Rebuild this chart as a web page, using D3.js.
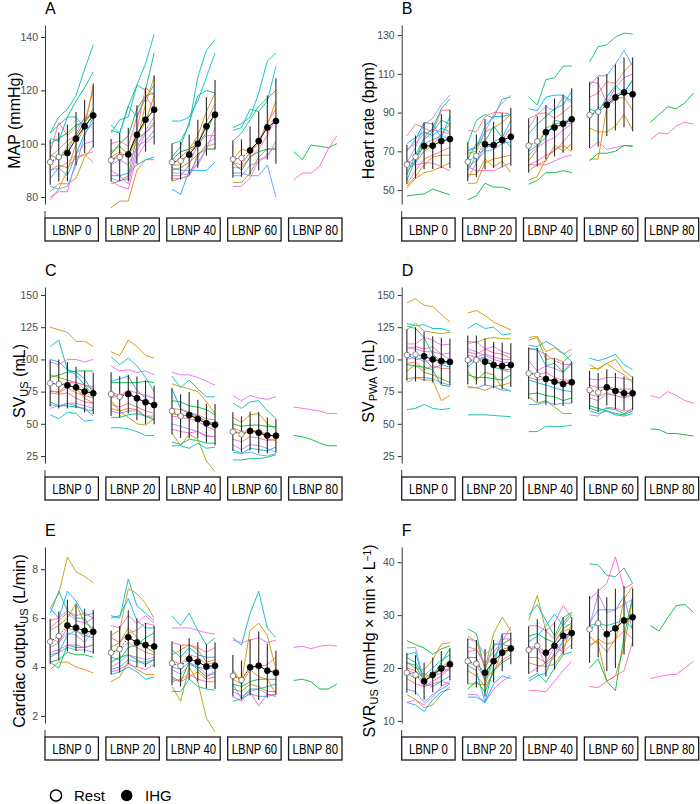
<!DOCTYPE html>
<html>
<head>
<meta charset="utf-8">
<script src="https://cdn.jsdelivr.net/npm/d3@7"></script>
<style>
  body { margin: 0; background: #fff; }
  text { font-family: "Liberation Sans", Arial, sans-serif; }
</style>
</head>
<body>
<svg id="chart" width="700" height="804"></svg>
<script>
// ---- shared categories ----
const lbnpLevels = ["LBNP 0", "LBNP 20", "LBNP 40", "LBNP 60", "LBNP 80"];
const timepoints = ["Rest 1", "Rest 2", "IHG 1", "IHG 2", "IHG 3", "IHG 4"];
const restCount = 2;
const subjectColors = ["#F8766D", "#E58700", "#C99800", "#A3A500", "#6BB100", "#00BA38", "#00BF7D",
  "#00C0AF", "#00BCD8", "#00B0F6", "#619CFF", "#B983FF", "#E76BF3", "#FD61D1", "#FF67A4"];

// ---- A: MAP ----
const mapTicks = [80, 100, 120, 140];
const mapMean = [[93.1, 95, 96.5, 101.9, 106.5, 110.6], [93.8, 95, 96, 103.4, 109, 112.7],
  [93.1, 93.6, 95.9, 100, 106.5, 110.9], [94.2, 94.6, 97.5, 101, 106.1, 108.5]];
const mapSd = [[8.5, 9.2, 10.6, 10, 10, 12], [8, 9, 10, 11, 12, 13], [7, 7, 7.5, 9, 11, 13], [7, 7, 9, 11, 12, 16]];
const mapLines = [
  [{id: 7, v: [104, 110, 113, 118, 128, 137]}, {id: 6, v: [104, 107, 110, 116, 121, 127]},
   {id: 8, v: [102, 101, 110, 110, 106, 111]}, {id: 5, v: [100, 102, 104, 107, 108, 113]},
   {id: 14, v: [97, 108, 103, 106, 109, 111]}, {id: 11, v: [92, 95, 97, 104, 110, 110]},
   {id: 9, v: [87, 91, 88, 96, 104, 108]}, {id: 0, v: [95, 98, 101, 103, 108, 120]},
   {id: 1, v: [79, 83, 90, 100, 106, 122]}, {id: 3, v: [82, 85, 85, 87, 95, 99]},
   {id: 13, v: [80, 82, 82, 94, 96, 97]}, {id: 10, v: [84, 83, 84, 92, 103, 110]},
   {id: 2, v: [90, 92, 91, 95, 96, 93]}, {id: 12, v: [90, 91, 93, 96, 100, 101]},
   {id: 4, v: [96, 94, 99, 103, 108, 112]}],
  [{id: 7, v: [104, 109, 110, 122, 130, 141]}, {id: 6, v: [105, 104, 114, 122, 120, 134]},
   {id: 8, v: [107, 104, 114, 110, 117, 122]}, {id: 5, v: [96, 100, 103, 113, 118, 119]},
   {id: 14, v: [100, 101, 99, 110, 118, 113]}, {id: 0, v: [95, 97, 95, 105, 121, 118]},
   {id: 1, v: [76, 78.5, 78.5, 90, 94, 94]}, {id: 2, v: [94, 96, 96, 100, 115, 125]},
   {id: 3, v: [85, 86, 88, 103, 108, 118]}, {id: 9, v: [88, 88, 89, 92, 94, 95]},
   {id: 10, v: [87, 86, 87, 99, 101, 105]}, {id: 12, v: [90, 88, 85, 97, 104, 107]},
   {id: 13, v: [86, 84, 83, 95, 100, 103]}, {id: 4, v: [97, 99, 96, 102, 104, 108]},
   {id: 11, v: [92, 94, 92, 99, 105, 110]}],
  [{id: 7, v: [100, 101, 107, 125, 135, 139]}, {id: 6, v: [95, 99, 108, 118, 120, 119]},
   {id: 8, v: [108.5, 108.5, 110, 116, 125, 134]}, {id: 9, v: [83, 81, 90, 90, 90, 93]},
   {id: 10, v: [91, 90, 90, 92, 98, 98]}, {id: 5, v: [94, 97, 98, 100, 104, 112]},
   {id: 1, v: [92, 95, 98, 103, 112, 119]}, {id: 0, v: [92, 92, 97, 100, 108, 115]},
   {id: 14, v: [88, 88, 92, 100, 103, 103]}, {id: 3, v: [86, 87, 88, 96, 99, 100]},
   {id: 12, v: [87, 87, 88, 93, 98, 106]}, {id: 11, v: [89, 89, 88, 95, 100, 102]},
   {id: 4, v: [90, 91, 93, 96, 98, 98]}],
  [{id: 7, v: [106, 107.5, 110, 119, 131, 134]}, {id: 8, v: [105, 106, 113, 112, 116, 129]},
   {id: 6, v: [101, 104, 109, 114, 117, 120]}, {id: 1, v: [94, 98, 97, 100, 107, 116]},
   {id: 0, v: [93, 92, 97, 101, 108, 113]}, {id: 14, v: [91, 91, 95, 98, 103, 110]},
   {id: 3, v: [85.5, 85.5, 89, 95, 98, 98]}, {id: 5, v: [93, 90, 95, 97, 98, 98]},
   {id: 10, v: [89, 89, 88, 88, 92, 80]}, {id: 12, v: [84, 84, 87, 94, 95, 101]},
   {id: 11, v: [88, 88, 92, 93, 96, 99]}],
  [{id: 5, v: [97, 94, 99.5, 99, 98.5, 100]}, {id: 13, v: [86.5, 89, 89, 91.5, 98, 103]}]
];

// ---- B: Heart rate ----
const hrTicks = [50, 70, 90, 110, 130];
const hrMean = [[63.2, 67.2, 72.7, 72.9, 75.3, 76.3], [64.6, 67.7, 73.7, 73.2, 75.8, 77.5],
  [72.9, 75.1, 79.9, 82.3, 84.2, 86.5], [88.7, 90.4, 93.9, 97.8, 100.4, 99.4]];
const hrSd = [[10, 11, 12, 12, 14, 15], [10, 11, 13, 12, 14, 15], [14, 13, 14, 15, 15, 16], [17, 18, 16, 17, 18, 19]];
const hrLines = [
  [{id: 5, v: [47, 47.5, 48, 50.5, 49, 47.5]}, {id: 13, v: [65, 63, 64, 64, 62, 60]},
   {id: 1, v: [51, 56, 59, 60, 62, 64]}, {id: 2, v: [52, 57, 63, 67, 68, 68]},
   {id: 0, v: [78, 84, 82, 80, 91, 91.5]}, {id: 9, v: [70, 76, 85, 84, 77, 88]},
   {id: 7, v: [55, 66, 76, 80, 86, 84]}, {id: 11, v: [64, 72, 84, 87, 94, 99]},
   {id: 6, v: [58, 68, 77, 82, 92, 97]}, {id: 3, v: [60, 64, 70, 73, 79, 84]},
   {id: 10, v: [62, 64, 74, 76, 78, 76]}, {id: 14, v: [53, 60, 66, 68, 70, 72]},
   {id: 8, v: [74, 77, 80, 78, 82, 80]}, {id: 12, v: [71, 74, 79, 81, 80, 79]}],
  [{id: 5, v: [45, 47, 53.5, 51.5, 51.5, 50]}, {id: 1, v: [53.5, 53.5, 64, 66, 67, 68]},
   {id: 2, v: [58, 58, 66, 62, 65, 59]}, {id: 13, v: [62, 60, 60, 60, 62, 64]},
   {id: 7, v: [74, 86, 89, 87, 97, 98]}, {id: 3, v: [69, 70, 80, 82, 85, 89]},
   {id: 11, v: [71, 72, 80, 89, 95, 99]}, {id: 0, v: [81, 80, 88, 90, 90, 89]},
   {id: 9, v: [70, 72, 83, 88, 88, 89]}, {id: 14, v: [56, 64, 73, 72, 76, 82]},
   {id: 8, v: [60, 68, 71, 75, 77, 86]}, {id: 6, v: [66, 74, 75, 83, 77, 72]},
   {id: 10, v: [62, 65, 70, 71, 74, 75]}],
  [{id: 6, v: [98, 94, 107, 108, 114, 114]}, {id: 5, v: [53, 55, 59, 59, 60, 59]},
   {id: 9, v: [92, 91, 98, 99, 99, 96]}, {id: 11, v: [82, 89, 93, 91, 98, 95]},
   {id: 0, v: [87, 89, 90, 87, 90, 94]}, {id: 7, v: [79, 84, 88, 92, 94, 101]},
   {id: 8, v: [70, 73, 77, 86, 85, 87]}, {id: 3, v: [65, 71, 82, 84, 85, 84]},
   {id: 1, v: [55, 57, 66, 71, 73, 70]}, {id: 2, v: [60, 63, 65, 73, 70, 74]},
   {id: 13, v: [63, 63, 63, 65, 67, 68]}, {id: 14, v: [63, 65, 68, 70, 75, 80]},
   {id: 12, v: [68, 72, 75, 77, 81, 84]}],
  [{id: 6, v: [116, 124, 125, 129, 131, 130.5]}, {id: 10, v: [104, 109, 109, 115, 122, 114]},
   {id: 0, v: [98, 100, 106, 105, 111, 116]}, {id: 13, v: [106, 105, 95, 103, 108, 110]},
   {id: 7, v: [92, 90, 98, 104, 100, 107]}, {id: 8, v: [88, 92, 95, 99, 101, 106]},
   {id: 2, v: [82, 80, 80, 83, 89, 81]}, {id: 1, v: [66, 66, 93, 97, 98, 91]},
   {id: 12, v: [71, 75, 71, 72, 73, 73]}, {id: 5, v: [65, 69, 69, 70, 73, 72.5]}],
  [{id: 5, v: [85, 89, 93, 92, 95, 100]}, {id: 13, v: [76, 79.5, 79, 83, 85, 84]}]
];

// ---- C: SV (ultrasound) ----
const svusTicks = [25, 50, 75, 100, 125, 150];
const svusMean = [[81.4, 80.9, 79.9, 78.3, 75, 73.7], [73.1, 71, 73.1, 69.8, 66.7, 64.6],
  [59.9, 56, 56.8, 53.7, 50.4, 49.3], [43.9, 41.8, 44.4, 43.1, 41, 40.8]];
const svusSd = [[18, 19, 18, 16, 16, 16], [17, 16, 15, 17, 17, 15], [18, 17, 18, 15, 15, 16], [15, 14, 15, 16, 14, 13]];
const svusLines = [
  [{id: 2, v: [125, 123, 121, 114, 114, 110]}, {id: 7, v: [110, 115, 92, 90, 85, 74]},
   {id: 12, v: [98, 96, 100, 100, 98, 100]}, {id: 9, v: [100, 98, 92, 88, 80, 72]},
   {id: 5, v: [86, 88, 90, 91, 91, 91]}, {id: 3, v: [88, 86, 84, 82, 80, 77]},
   {id: 0, v: [76, 74, 78, 74, 72, 70]}, {id: 14, v: [74, 73, 74, 70, 67, 66]},
   {id: 1, v: [75, 75, 80, 78, 70, 66]}, {id: 10, v: [65, 63, 66, 64, 61, 60]},
   {id: 8, v: [57, 54, 59, 58, 52, 53]}, {id: 11, v: [62, 64, 66, 66, 64, 62]},
   {id: 6, v: [67, 64, 64, 63, 62, 56]}, {id: 13, v: [82, 80, 82, 82, 80, 79]}],
  [{id: 2, v: [106, 103, 115, 110, 103, 101]}, {id: 7, v: [102, 96, 101, 95, 86, 75]},
   {id: 12, v: [95, 91, 92, 90, 91, 88]}, {id: 9, v: [83, 85, 87, 76, 70, 62]},
   {id: 5, v: [82, 82, 82, 82, 83, 82]}, {id: 0, v: [70, 72, 74, 70, 67, 64]},
   {id: 1, v: [62, 60, 62, 61, 56, 56]}, {id: 3, v: [68, 60, 55, 50, 49, 54]},
   {id: 8, v: [47, 47, 46, 44, 41, 41]}, {id: 14, v: [65, 63, 66, 63, 60, 58]},
   {id: 11, v: [60, 58, 60, 60, 56, 54]}, {id: 6, v: [55, 55, 57, 58, 56, 53]},
   {id: 13, v: [75, 72, 76, 74, 72, 70]}],
  [{id: 12, v: [90, 88, 88, 86, 83, 80]}, {id: 7, v: [87, 78, 84, 77, 71, 71]},
   {id: 2, v: [81, 79, 77, 75, 67, 58]}, {id: 9, v: [77, 62, 58, 56, 52, 50]},
   {id: 5, v: [68, 67, 64, 63, 61, 57]}, {id: 0, v: [62, 61, 59, 57, 54, 53]},
   {id: 3, v: [43, 33, 42, 38, 21, 13]}, {id: 14, v: [56, 55, 54, 52, 48, 45]},
   {id: 8, v: [33, 33, 31, 35, 31, 32]}, {id: 11, v: [50, 48, 46, 44, 40, 40]},
   {id: 1, v: [58, 56, 57, 55, 52, 47]}, {id: 6, v: [36, 34, 38, 37, 35, 35]},
   {id: 13, v: [46, 44, 43, 44, 41, 40]}],
  [{id: 12, v: [72, 68, 72, 70, 69, 71]}, {id: 7, v: [66, 62, 67, 68, 60, 54]},
   {id: 2, v: [55, 51, 57, 58, 50, 46]}, {id: 5, v: [50, 48, 49, 49, 48, 48]},
   {id: 0, v: [47, 44, 45, 44, 42, 40]}, {id: 1, v: [45, 42, 44, 45, 38, 37]},
   {id: 14, v: [38, 36, 40, 39, 37, 38]}, {id: 11, v: [34, 30, 34, 33, 31, 28]},
   {id: 10, v: [30, 27, 28, 26, 25, 27]}, {id: 6, v: [22, 22, 23, 23, 24, 26]},
   {id: 8, v: [28, 27, 31, 30, 29, 32]}],
  [{id: 13, v: [63, 62, 61, 60, 58, 58]}, {id: 5, v: [41, 40, 38, 35, 33, 33]}]
];

// ---- D: SV (pulse wave analysis) ----
const svpwaTicks = [25, 50, 75, 100, 125, 150];
const svpwaMean = [[103.4, 103.9, 102.4, 100, 98.8, 98], [99.5, 99.5, 98.2, 95.6, 94.9, 95.6],
  [89.2, 87.9, 84.8, 82.7, 80.9, 82.2], [76.2, 74.4, 78.3, 75.5, 73.7, 73.7]];
const svpwaSd = [[20, 21, 19, 18, 18, 18], [19, 19, 18, 18, 18, 17], [20, 21, 20, 18, 17, 16], [15, 15, 14, 14, 13, 13]];
const svpwaLines = [
  [{id: 2, v: [144, 147, 142, 141, 135, 129]}, {id: 8, v: [128, 126, 127, 124, 124, 122]},
   {id: 3, v: [123, 128, 122, 121, 120, 121]}, {id: 6, v: [126, 124, 117, 104, 98, 97]},
   {id: 12, v: [112, 112, 117, 115, 111, 112]}, {id: 14, v: [108, 110, 108, 110, 104, 105]},
   {id: 11, v: [110, 108, 106, 106, 104, 100]}, {id: 9, v: [104, 100, 101, 93, 96, 94]},
   {id: 0, v: [97, 98, 92, 95, 93, 93]}, {id: 5, v: [96, 95, 94, 92, 80, 79]},
   {id: 1, v: [85, 86, 84, 84, 68, 72]}, {id: 10, v: [82, 86, 86, 85, 82, 80]},
   {id: 7, v: [61, 62, 65, 62, 61, 62]}, {id: 4, v: [91, 96, 90, 88, 85, 82]},
   {id: 13, v: [100, 102, 98, 100, 96, 98]}],
  [{id: 2, v: [136, 138, 134, 129, 126, 123]}, {id: 8, v: [124, 128, 124, 125, 119, 120]},
   {id: 3, v: [114, 113, 116, 117, 116, 116]}, {id: 12, v: [112, 114, 108, 110, 106, 104]},
   {id: 14, v: [106, 104, 108, 105, 104, 101]}, {id: 0, v: [98, 99, 101, 98, 92, 90]},
   {id: 9, v: [94, 100, 102, 94, 92, 92]}, {id: 5, v: [88, 86, 86, 85, 84, 88]},
   {id: 4, v: [90, 84, 90, 88, 78, 75]}, {id: 1, v: [79, 78, 76, 79, 80, 82]},
   {id: 10, v: [78, 78, 80, 79, 76, 76]}, {id: 7, v: [57, 57, 57, 56.5, 56, 55.5]},
   {id: 13, v: [103, 102, 104, 102, 100, 100]}, {id: 11, v: [108, 106, 103, 100, 98, 97]}],
  [{id: 2, v: [117, 118, 106, 109, 104, 108]}, {id: 3, v: [115, 117, 100, 101, 98, 104]},
   {id: 8, v: [111, 110, 114, 110, 105, 98]}, {id: 12, v: [109, 107, 104, 99, 96, 96]},
   {id: 11, v: [99, 91, 95, 93, 90, 96]}, {id: 14, v: [90, 88, 90, 86, 84, 84]},
   {id: 0, v: [86, 84, 85, 84, 82, 83]}, {id: 9, v: [84, 82, 80, 78, 76, 75]},
   {id: 5, v: [73, 74, 72, 71, 68, 70]}, {id: 4, v: [71, 66, 68, 63, 58, 58]},
   {id: 10, v: [65, 65, 67, 65, 66, 66]}, {id: 7, v: [44, 44, 48, 48, 48, 49]},
   {id: 6, v: [108, 108, 95, 97, 90, 98]}],
  [{id: 8, v: [101, 99, 101, 104, 96, 92]}, {id: 2, v: [93, 93, 97, 92, 88, 82]},
   {id: 3, v: [96, 92, 97, 100, 91, 86]}, {id: 12, v: [85, 84, 86, 86, 85, 84]},
   {id: 14, v: [80, 78, 79, 77, 77, 77]}, {id: 0, v: [73, 71, 74, 72, 70, 74]},
   {id: 11, v: [70, 68, 73, 72, 70, 72]}, {id: 5, v: [64, 62, 60, 58, 57, 60]},
   {id: 6, v: [62, 60, 62, 61, 58, 62]}, {id: 13, v: [57, 56, 63, 62, 60, 60]},
   {id: 9, v: [60, 58, 60, 57, 56, 58]}],
  [{id: 13, v: [72, 70, 75, 72, 68, 66]}, {id: 5, v: [46, 45.5, 42.5, 42.5, 41.5, 40.5]}]
];

// ---- E: Cardiac output ----
const coTicks = [2, 4, 6, 8];
const coMean = [[5.04, 5.27, 5.7, 5.61, 5.48, 5.44], [4.59, 4.73, 5.22, 5, 4.9, 4.84],
  [4.15, 4.05, 4.33, 4.21, 4.02, 4.05], [3.64, 3.47, 3.99, 4.05, 3.85, 3.77]];
const coSd = [[0.93, 1, 1.05, 0.95, 0.9, 0.9], [0.9, 0.95, 1.1, 1, 0.9, 0.85],
  [0.9, 0.85, 0.85, 0.8, 0.9, 0.95], [0.85, 0.8, 1.15, 1.4, 1.1, 0.9]];
const coLines = [
  [{id: 2, v: [6.4, 7, 8.5, 7.9, 7.7, 7.45]}, {id: 7, v: [6.2, 7.1, 6.3, 6, 6, 5.4]},
   {id: 9, v: [6.4, 6, 7.1, 6.7, 6.1, 6.2]}, {id: 14, v: [5.9, 6, 6.3, 6.1, 6.2, 6]},
   {id: 12, v: [5.6, 5.9, 6.2, 5.9, 5.8, 6]}, {id: 3, v: [5.5, 5.7, 6, 6.6, 5.8, 5.6]},
   {id: 0, v: [5.2, 5, 5.6, 5.5, 5.2, 5.6]}, {id: 8, v: [4.5, 4.6, 5.3, 5.5, 5.3, 5.2]},
   {id: 11, v: [4.8, 5, 5.4, 5.3, 5, 5.5]}, {id: 5, v: [4.2, 4.3, 4.6, 4.5, 4.5, 4.4]},
   {id: 1, v: [3.9, 4.2, 4.2, 4, 3.9, 3.75]}, {id: 10, v: [4.4, 4.6, 4.8, 4.7, 4.7, 4.6]},
   {id: 6, v: [4.2, 3.95, 4.9, 4.8, 4.8, 4.9]}, {id: 13, v: [4.6, 4.7, 4.9, 4.9, 4.8, 4.9]}],
  [{id: 7, v: [6.1, 6, 7.6, 6.5, 6.2, 5.9]}, {id: 2, v: [5.3, 5.5, 7.2, 7, 6.6, 6]},
   {id: 9, v: [6, 6.1, 6.8, 5.9, 5.6, 5.6]}, {id: 12, v: [5.7, 5.6, 6.1, 5.8, 6.1, 5.8]},
   {id: 14, v: [5.2, 5, 5.4, 5.5, 5.8, 5.7]}, {id: 3, v: [4.8, 5, 5.6, 5.2, 4.8, 4.6]},
   {id: 0, v: [4.6, 4.7, 5, 4.8, 4.6, 4.5]}, {id: 5, v: [4.2, 4.4, 4.5, 4.3, 4.1, 4.3]},
   {id: 11, v: [4, 4.2, 4.5, 4.4, 4.3, 4.4]}, {id: 1, v: [3.4, 3.6, 4.2, 3.9, 3.7, 3.7]},
   {id: 8, v: [3.7, 3.8, 4, 3.8, 3.5, 3.6]}, {id: 10, v: [3.9, 4, 4.3, 4.2, 4.2, 4.3]},
   {id: 6, v: [4.4, 4.3, 4.8, 4.9, 5.2, 5.4]}, {id: 13, v: [3.8, 3.9, 4.1, 4, 3.9, 4.1]}],
  [{id: 7, v: [6.1, 5.7, 6.2, 5.5, 4.9, 5.2]}, {id: 12, v: [5.6, 5.6, 5.6, 5.5, 5.4, 5.35]},
   {id: 14, v: [5, 4.9, 4.9, 4.8, 4.6, 4.8]}, {id: 2, v: [4.5, 4.7, 4.9, 4.7, 4.2, 4.3]},
   {id: 9, v: [4.7, 4.4, 4.8, 4.5, 4.4, 4.4]}, {id: 0, v: [4.3, 4.1, 4.5, 4.4, 4.1, 4.2]},
   {id: 3, v: [3.2, 2.6, 4, 3.4, 1.9, 1.35]}, {id: 5, v: [3.6, 3.4, 4.2, 3.9, 3.6, 3.8]},
   {id: 8, v: [3, 3, 3.5, 3.2, 3.1, 3.05]}, {id: 11, v: [3.9, 3.7, 4.1, 4, 3.7, 3.7]},
   {id: 1, v: [3.5, 3.4, 3.6, 3.8, 3.5, 3.6]}, {id: 13, v: [3.4, 3.5, 3.7, 3.5, 3.4, 3.4]},
   {id: 10, v: [4, 3.9, 4.2, 4, 3.9, 4]}],
  [{id: 7, v: [5.2, 4.9, 6.2, 7.1, 5.6, 5.2]}, {id: 12, v: [5.1, 5, 5.1, 5.2, 5, 5.1]},
   {id: 2, v: [3.9, 3.4, 5.5, 5.8, 5.3, 3.9]}, {id: 0, v: [3.7, 3.5, 4, 4, 4.1, 4.4]},
   {id: 5, v: [3.3, 3.2, 3.4, 3.5, 3.5, 3.5]}, {id: 1, v: [3.5, 3.3, 3.9, 3.6, 3.5, 2.9]},
   {id: 3, v: [3.1, 3, 3.3, 3.2, 3, 3]}, {id: 11, v: [3, 2.8, 3, 3.1, 2.9, 2.8]},
   {id: 14, v: [2.8, 2.6, 3, 2.4, 2.9, 2.8]}, {id: 10, v: [3.3, 2.7, 2.9, 2.8, 2.8, 2.9]},
   {id: 6, v: [2.6, 2.7, 3.1, 3.1, 3.2, 3.3]}],
  [{id: 13, v: [4.8, 4.85, 4.75, 4.85, 4.9, 4.85]}, {id: 5, v: [3.45, 3.5, 3.4, 3.1, 3.1, 3.3]}]
];

// ---- F: SVR ----
const svrTicks = [10, 20, 30, 40];
const svrMean = [[19.1, 18.7, 17.5, 18.7, 19.9, 20.7], [21.3, 20.8, 19.1, 21.3, 22.9, 23.7],
  [23.4, 24.2, 22.9, 24.2, 26.1, 26.6], [27.3, 28.5, 26.4, 27.5, 29, 29.6]];
const svrSd = [[3.8, 3.7, 3.5, 3.3, 3.3, 3], [4.3, 4.5, 4.5, 4, 3.5, 3], [4.5, 5, 4.5, 4.5, 3.5, 3], [6.3, 6.5, 7, 7.5, 6.5, 5.5]];
const svrLines = [
  [{id: 5, v: [25.2, 24.4, 23.8, 22.6, 23.6, 24.2]}, {id: 1, v: [21, 20, 19.6, 21.5, 24.5, 24.8]},
   {id: 11, v: [23.8, 23.9, 17.5, 18.5, 19, 20]}, {id: 7, v: [22, 21, 18.5, 20, 21.5, 22.5]},
   {id: 8, v: [22.5, 23, 17, 16.5, 17.5, 18.5]}, {id: 0, v: [20, 19.5, 18, 19, 20, 19.5]},
   {id: 14, v: [18, 17, 16.5, 17.5, 18.5, 20]}, {id: 3, v: [19, 18, 19, 18, 20, 21.5]},
   {id: 2, v: [15, 14, 12.5, 13, 15, 16.5]}, {id: 9, v: [13.5, 13, 11.8, 14, 15.5, 16]},
   {id: 12, v: [13.5, 14, 13, 14.5, 16.5, 17.5]}, {id: 10, v: [16, 15.5, 13.5, 15, 16, 17]},
   {id: 6, v: [21, 20.5, 17.5, 18.5, 21, 23.7]}, {id: 13, v: [19.5, 19, 16.5, 17, 17.5, 17]}],
  [{id: 6, v: [27.4, 26.5, 19.5, 24.5, 24.5, 25.5]}, {id: 3, v: [26, 25, 20, 26.5, 29.6, 27]},
   {id: 0, v: [24, 23.5, 20.5, 22, 24.5, 25.5]}, {id: 7, v: [22, 22, 17.5, 22, 24.5, 24]},
   {id: 14, v: [21, 20.5, 18, 19.5, 21.5, 22.5]}, {id: 1, v: [19.5, 18.5, 16.5, 19, 23.5, 24]},
   {id: 8, v: [20.5, 19.5, 13.5, 20.5, 26.5, 26.5]}, {id: 2, v: [17, 17, 16.8, 21.5, 22.5, 23.5]},
   {id: 12, v: [15, 15, 13.5, 16, 17.5, 18.5]}, {id: 9, v: [14.5, 14.5, 13.5, 17, 18.5, 18]},
   {id: 5, v: [16, 17.5, 15.5, 19.5, 21, 22]}, {id: 11, v: [25.5, 25, 22.5, 24, 25.5, 25.5]},
   {id: 13, v: [23, 23.5, 21, 23, 25, 27.8]}],
  [{id: 3, v: [29, 33.7, 27, 25.5, 28.5, 30.5]}, {id: 7, v: [30, 32, 29, 26, 29.5, 30.5]},
   {id: 14, v: [28, 28, 27, 28.5, 31.8, 29.5]}, {id: 5, v: [26, 26.5, 25.5, 24.8, 27.5, 28.5]},
   {id: 8, v: [25, 26, 28, 30.2, 28, 30]}, {id: 0, v: [24, 24, 22, 25, 27, 27.5]},
   {id: 2, v: [21, 20.5, 20.3, 20.7, 23, 28.5]}, {id: 9, v: [17.5, 18.5, 19, 23, 25, 27]},
   {id: 12, v: [19, 20, 21, 24, 23, 24.5]}, {id: 13, v: [15.7, 15.7, 15.5, 17.5, 19.5, 21.3]},
   {id: 1, v: [22, 22, 21, 22.5, 24, 26]}, {id: 11, v: [23, 24, 20.5, 22, 25, 26.5]},
   {id: 6, v: [18, 19, 17.3, 20, 22.5, 23]}],
  [{id: 6, v: [39.7, 39.5, 37.5, 37.3, 38.9, 36]}, {id: 13, v: [33, 34.5, 36, 41, 35, 36]},
   {id: 10, v: [28.5, 31, 31, 31, 33.5, 27]}, {id: 11, v: [28, 34, 30.5, 31, 32, 33]},
   {id: 7, v: [28, 28.5, 28, 28.5, 29, 27.5]}, {id: 2, v: [24, 25.5, 24.5, 25, 33, 35.5]},
   {id: 0, v: [24.5, 25, 23, 25.5, 27, 25.5]}, {id: 1, v: [26, 24.5, 17.5, 18.5, 24, 33]},
   {id: 5, v: [20, 21.7, 17.5, 15.7, 26, 33.5]}, {id: 14, v: [16.5, 16.3, 17.5, 18.5, 19.5, 25]}],
  [{id: 5, v: [28, 27, 29.5, 31.8, 32, 30.5]}, {id: 13, v: [18, 18.4, 18.7, 18.8, 20, 21.3]}]
];

// ---- layout ----
const colX = [45, 401.7];
const rowTop = [25, 287, 547];
const rowBottom = [204, 463, 723];
const stripGap = 14, stripH = 23;

const panels = [
  {letter: "A", col: 0, row: 0, limits: [77.4, 144.5], ticks: mapTicks, mean: mapMean, sd: mapSd, lines: mapLines,
   title: [["MAP (mmHg)", ""]], titleX: 19.5},
  {letter: "B", col: 1, row: 0, limits: [42.8, 135.2], ticks: hrTicks, mean: hrMean, sd: hrSd, lines: hrLines,
   title: [["Heart rate (bpm)", ""]], titleX: 373.5},
  {letter: "C", col: 0, row: 1, limits: [19.6, 156.2], ticks: svusTicks, mean: svusMean, sd: svusSd, lines: svusLines,
   title: [["SV", ""], ["US", "sub"], [" (mL)", ""]], titleX: 24.5},
  {letter: "D", col: 1, row: 1, limits: [19.6, 156.2], ticks: svpwaTicks, mean: svpwaMean, sd: svpwaSd, lines: svpwaLines,
   title: [["SV", ""], ["PWA", "sub"], [" (mL)", ""]], titleX: 373.5},
  {letter: "E", col: 0, row: 2, limits: [1.71, 8.91], ticks: coTicks, mean: coMean, sd: coSd, lines: coLines,
   title: [["Cardiac output", ""], ["US", "sub"], [" (L/min)", ""]], titleX: 25},
  {letter: "F", col: 1, row: 2, limits: [9.6, 42.88], ticks: svrTicks, mean: svrMean, sd: svrSd, lines: svrLines,
   title: [["SVR", ""], ["US", "sub"], [" (mmHg \u00d7 min \u00d7 L", ""], ["\u22121", "sup"], [")", ""]], titleX: 375}
];

const svg = d3.select("#chart");
const color = d3.scaleOrdinal().domain(d3.range(subjectColors.length)).range(subjectColors);

function drawPanel(p) {
  const x0 = colX[p.col], top = rowTop[p.row], bottom = rowBottom[p.row];
  const g = svg.append("g");

  const y = d3.scaleLinear().domain(p.limits).range([bottom, top]);
  const facet = d3.scaleBand().domain(lbnpLevels).range([x0, x0 + 297]).paddingInner(0.123);
  const xt = d3.scalePoint().domain(timepoints).range([0, facet.bandwidth()]).padding(0.6);

  // y axis
  const axis = g.append("g")
    .attr("transform", `translate(${x0},0)`)
    .call(d3.axisLeft(y).tickValues(p.ticks).tickSize(4).tickSizeOuter(0).tickPadding(3));
  axis.select(".domain").attr("stroke", "#333").attr("stroke-width", 1);
  axis.selectAll(".tick line").attr("stroke", "#333");
  axis.selectAll(".tick text").attr("fill", "#4d4d4d").style("font-size", "10.5px");
  g.append("line")
    .attr("x1", x0).attr("x2", x0)
    .attr("y1", bottom + stripGap - 7).attr("y2", bottom + stripGap)
    .attr("stroke", "#333");

  // panel letter
  g.append("text")
    .attr("x", x0).attr("y", top - 11)
    .style("font-size", "16px")
    .text(p.letter);

  // y title
  const title = g.append("text")
    .attr("transform", "rotate(-90)")
    .attr("x", -(top + bottom) / 2 - 6)
    .attr("y", p.titleX)
    .attr("text-anchor", "middle")
    .style("font-size", "16px");
  p.title.forEach(([s, kind]) => {
    const t = title.append("tspan").text(s);
    if (kind === "sub") t.attr("baseline-shift", "-25%").style("font-size", "11px");
    if (kind === "sup") t.attr("baseline-shift", "45%").style("font-size", "10px");
  });

  const line = d3.line()
    .x((d, i) => xt(timepoints[i]))
    .y(d => y(d));

  lbnpLevels.forEach((lvl, k) => {
    const fg = g.append("g").attr("transform", `translate(${facet(lvl)},0)`);

    // individual subjects
    fg.selectAll("path.subj")
      .data(p.lines[k])
      .join("path")
      .attr("class", "subj")
      .attr("d", d => line(d.v))
      .attr("fill", "none")
      .attr("stroke", d => color(d.id))
      .attr("stroke-width", 0.9);

    // strip (label squeezed horizontally like the original condensed face)
    const sx = facet(lvl), sy = bottom + stripGap;
    g.append("rect")
      .attr("x", sx).attr("y", sy)
      .attr("width", facet.bandwidth()).attr("height", stripH)
      .attr("fill", "#fff").attr("stroke", "#1a1a1a").attr("stroke-width", 1.3);
    g.append("text")
      .attr("transform", `translate(${sx + facet.bandwidth() / 2},${sy + stripH / 2 + 5}) scale(0.76,1)`)
      .attr("text-anchor", "middle")
      .style("font-size", "15px")
      .text(lvl);

    if (k >= p.mean.length) return;
    const m = p.mean[k], s = p.sd[k];

    // sd bars
    fg.selectAll("line.sd")
      .data(m)
      .join("line")
      .attr("class", "sd")
      .attr("x1", (d, i) => xt(timepoints[i]))
      .attr("x2", (d, i) => xt(timepoints[i]))
      .attr("y1", (d, i) => y(d - s[i]))
      .attr("y2", (d, i) => y(d + s[i]))
      .attr("stroke", "#2a2a2a")
      .attr("stroke-width", 1.1);

    // mean line: dotted through rest, solid during IHG
    fg.append("path")
      .attr("d", line(m.slice(0, restCount + 1)))
      .attr("fill", "none").attr("stroke", "#222").attr("stroke-width", 0.9)
      .attr("stroke-dasharray", "1.5,1.5");
    fg.append("path")
      .attr("d", d3.line().x((d, i) => xt(timepoints[i + restCount])).y(d => y(d))(m.slice(restCount)))
      .attr("fill", "none").attr("stroke", "#111").attr("stroke-width", 1);

    fg.selectAll("circle.mean")
      .data(m)
      .join("circle")
      .attr("class", "mean")
      .attr("cx", (d, i) => xt(timepoints[i]))
      .attr("cy", d => y(d))
      .attr("r", (d, i) => i < restCount ? 2.8 : 3)
      .attr("fill", (d, i) => i < restCount ? "#fff" : "#000")
      .attr("stroke", (d, i) => i < restCount ? "#555" : "#000")
      .attr("stroke-width", 0.7);
  });
}

panels.forEach(drawPanel);

// legend
const legend = svg.append("g");
legend.append("circle").attr("cx", 56).attr("cy", 795.5).attr("r", 5.6)
  .attr("fill", "#fff").attr("stroke", "#000").attr("stroke-width", 1.5);
legend.append("text").attr("x", 74).attr("y", 800.5).style("font-size", "15px").text("Rest");
legend.append("circle").attr("cx", 126.7).attr("cy", 795.5).attr("r", 5.8).attr("fill", "#000");
legend.append("text").attr("x", 145).attr("y", 800.5).style("font-size", "15px").text("IHG");
</script>
</body>
</html>
